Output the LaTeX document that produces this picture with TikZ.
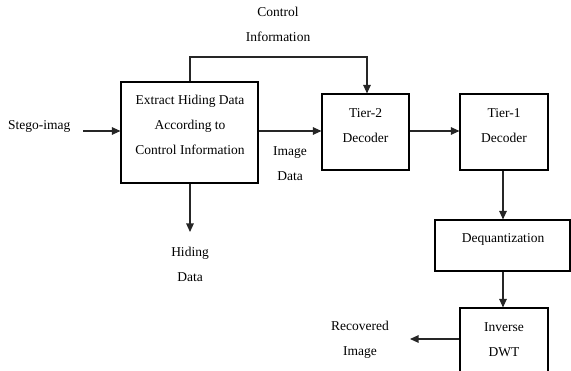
\documentclass[tikz,border=0pt]{standalone}
\usepackage{fontspec}
\setmainfont{Liberation Serif}
\usetikzlibrary{arrows.meta}
\begin{document}
\begin{tikzpicture}[x=1pt,y=-1pt,
  box/.style={draw=black,line width=1.1pt,inner sep=0pt},
  txt/.style={inner sep=0pt,align=center,font=\fontsize{13.5}{25}\selectfont},
  conn/.style={draw=black!85,line width=1.1pt,-{Triangle[length=8.5pt,width=7.5pt]}}]
\useasboundingbox (0,0) rectangle (571,371);
% boxes
\node[box,minimum width=137pt,minimum height=101pt] (ext) at (189.5,132.5) {};
\node[box,minimum width=87pt,minimum height=76pt] (t2) at (365.5,132) {};
\node[box,minimum width=88pt,minimum height=76pt] (t1) at (504,132) {};
\node[box,minimum width=135pt,minimum height=51pt] (deq) at (502.5,245.5) {};
\node[box,minimum width=88pt,minimum height=64pt] (idwt) at (504,340) {};
% box texts
\node[txt] (extt) at (190,125) {Extract Hiding Data\\According to\\Control Information};
\node[txt] (t2t) at (365.5,125.5) {Tier-2\\Decoder};
\node[txt] (t1t) at (504,125.5) {Tier-1\\Decoder};
\node[txt] (deqt) at (503,239) {Dequantization};
\node[txt] (idwtt) at (504,339.5) {Inverse\\DWT};
% free labels
\node[txt,anchor=west] (stego) at (8,126) {Stego-imag};
\node[txt] (ctrl) at (278,24.5) {Control\\Information};
\node[txt] (imgd) at (290,163.5) {Image\\Data};
\node[txt] (hid) at (190,264.5) {Hiding\\Data};
\node[txt] (rec) at (360,339.5) {Recovered\\Image};
% connectors
\coordinate (sin) at (83,131);
\coordinate (cx) at (190,57);
\coordinate (cy) at (367,57);
\coordinate (hout) at (190,232);
\coordinate (vx) at (503,0);
\coordinate (rout) at (410,339);
\draw[conn] (sin) -- (sin -| ext.west);
\draw[conn] (ext.east |- sin) -- (t2.west |- sin);
\draw[conn] (t2.east |- sin) -- (t1.west |- sin);
\draw[conn] (cx |- ext.north) -- (cx) -- (cy) -- (cy |- t2.north);
\draw[conn] (hout |- ext.south) -- (hout);
\draw[conn] (vx |- t1.south) -- (vx |- deq.north);
\draw[conn] (vx |- deq.south) -- (vx |- idwt.north);
\draw[conn] (idwt.west |- rout) -- (rout);
\end{tikzpicture}
\end{document}
